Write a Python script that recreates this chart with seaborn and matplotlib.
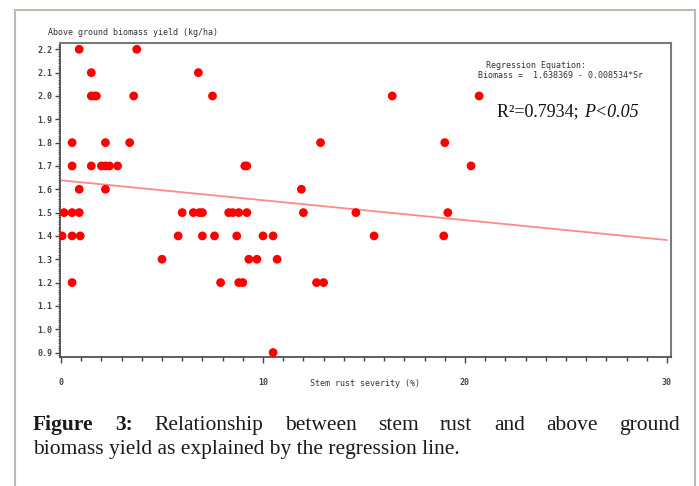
import pandas as pd
import seaborn as sns
import matplotlib.pyplot as plt
from matplotlib.patches import Rectangle
from matplotlib.ticker import MultipleLocator

# stem rust severity (%) and biomass yield (kg/ha)
severity = [0.9, 3.75,
            1.5, 6.8,
            1.5, 1.65, 1.75, 3.6, 7.5, 16.4, 20.7,
            0.55, 2.2, 3.4, 12.85, 19.0,
            0.55, 1.5, 2.0, 2.2, 2.4, 2.8, 9.1, 9.2, 20.3,
            0.9, 2.2, 11.9,
            0.15, 0.55, 0.9, 6.0, 6.55, 6.85, 7.0, 8.3, 8.5, 8.8, 9.2, 12.0, 14.6, 19.15,
            0.05, 0.55, 0.95, 5.8, 7.0, 7.6, 8.7, 10.0, 10.5, 15.5, 18.95,
            5.0, 9.3, 9.7, 10.7,
            0.55, 7.9, 8.8, 9.0, 12.65, 13.0,
            10.5]
biomass = [2.2] * 2 + [2.1] * 2 + [2.0] * 7 + [1.8] * 5 + [1.7] * 9 + [1.6] * 3 \
    + [1.5] * 14 + [1.4] * 11 + [1.3] * 4 + [1.2] * 6 + [0.9]

intercept = 1.638369
slope = -0.008534
line_x = [0, 30]

df = pd.DataFrame({'Sr': severity, 'Biomass': biomass})

sns.set_style('ticks')
plt.rcParams['font.family'] = ['DejaVu Sans Mono']

fig = plt.figure(figsize=(6.99, 4.86), dpi=100)
ax = fig.add_axes([60/699, 1-357/486, 611/699, 314/486])

sns.scatterplot(x='Sr', y='Biomass', data=df, color='#ff0000', s=40,
                edgecolor='none', ax=ax, zorder=3)
ax.plot(line_x, [intercept + slope*v for v in line_x], color='#ff8a8a', lw=1.3, zorder=2)

ax.set_xlim(-0.05, 30.2)
ax.set_ylim(0.881, 2.227)
ax.xaxis.set_major_locator(MultipleLocator(10))
ax.xaxis.set_minor_locator(MultipleLocator(1))
ax.yaxis.set_major_locator(MultipleLocator(0.1))
ax.yaxis.set_minor_locator(MultipleLocator(0.01))
ax.yaxis.set_major_formatter(lambda v, p: f'{v:.1f}')
ax.tick_params(axis='x', which='major', length=4, width=1, pad=11, labelsize=6, colors='#444444')
ax.tick_params(axis='x', which='minor', length=3, width=1, colors='#444444')
ax.tick_params(axis='y', which='major', length=3.5, width=1, pad=2, labelsize=6, colors='#444444')
ax.tick_params(axis='y', which='minor', length=1.5, width=0.6, colors='#555555')
for lab in ax.get_xticklabels() + ax.get_yticklabels():
    lab.set_fontweight('bold')

for side in ['top', 'right']:
    ax.spines[side].set_color('#7a7a7a')
    ax.spines[side].set_linewidth(1.5)
for side in ['left', 'bottom']:
    ax.spines[side].set_color('#444444')
    ax.spines[side].set_linewidth(1.2)

ax.set_xlabel('Stem rust severity (%)', fontsize=6, color='#333333')
ax.xaxis.set_label_coords(0.5, -0.083)
ax.xaxis.label.set_va('center')
ax.set_ylabel('Above ground biomass yield (kg/ha)', fontsize=6, color='#333333',
              rotation=0, ha='left', va='center')
ax.yaxis.set_label_coords(-0.02, 1.032)

ax.text(0.697, 0.927, 'Regression Equation:', transform=ax.transAxes,
        fontsize=6, color='#333333', va='center')
ax.text(0.684, 0.895, 'Biomass =  1.638369 - 0.008534*Sr', transform=ax.transAxes,
        fontsize=6, color='#333333', va='center')
t1 = ax.text(0.716, 0.78, 'R²=0.7934; ', transform=ax.transAxes, fontsize=13,
             family='Liberation Serif', color='#111111', va='center')
fig.canvas.draw()
bb = t1.get_window_extent().transformed(ax.transAxes.inverted())
ax.text(bb.x1, 0.78, 'P<0.05', transform=ax.transAxes, fontsize=13,
        family='Liberation Serif', style='italic', color='#111111', va='center')

# caption below the chart, first line justified
renderer = fig.canvas.get_renderer()
line1 = [('Figure', 'bold'), ('3:', 'bold'), ('Relationship', 'normal'), ('between', 'normal'),
         ('stem', 'normal'), ('rust', 'normal'), ('and', 'normal'), ('above', 'normal'),
         ('ground', 'normal')]
x0, x1 = 33/699, 680/699
texts = [fig.text(0, 1-430/486, w, fontsize=15.5, family='Liberation Serif', fontweight=fw,
                  color='#1a1a1a', va='baseline') for w, fw in line1]
widths = [t.get_window_extent(renderer).width/699 for t in texts]
gap = (x1 - x0 - sum(widths)) / (len(texts) - 1)
pos = x0
for t, w in zip(texts, widths):
    t.set_x(pos)
    pos += w + gap
fig.text(x0, 1-454/486, 'biomass yield as explained by the regression line.', fontsize=15.5,
         family='Liberation Serif', color='#1a1a1a', va='baseline')

fig.add_artist(Rectangle((15/699, -0.1), 680/699, 1.1-10/486, transform=fig.transFigure,
                         fill=False, edgecolor='#b2c1ad', lw=1.5))

fig.savefig('out.png', dpi=100)
